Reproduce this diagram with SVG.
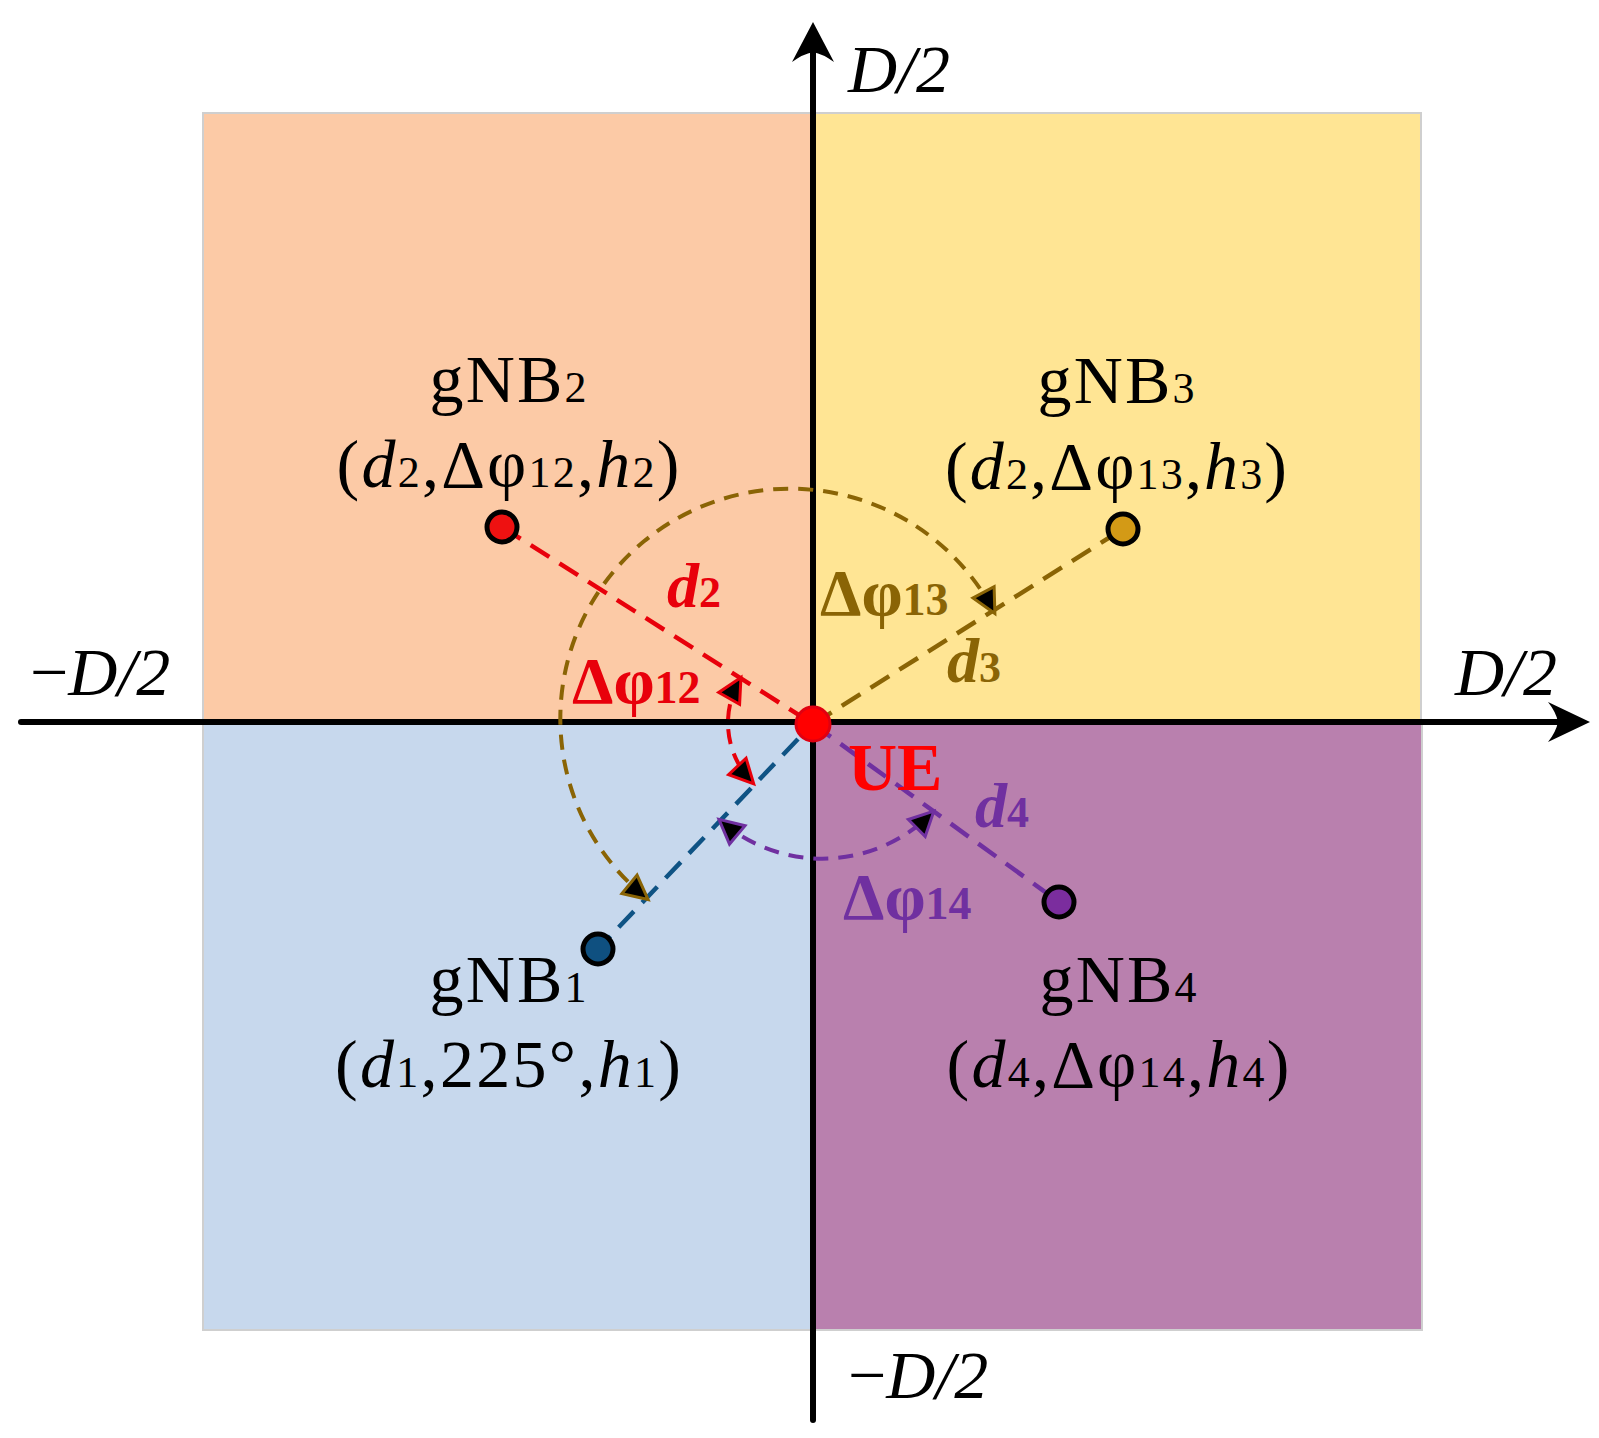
<svg xmlns="http://www.w3.org/2000/svg" width="1599" height="1438" viewBox="0 0 1599 1438">
<style>
text{font-family:"Liberation Serif","Times New Roman",serif;}
.lbl{font-size:68px;fill:#000;text-anchor:middle;}
.sub{font-size:44px;}
.it{font-style:italic;}
.ax{font-size:68px;font-style:italic;fill:#000;}
.cl{font-weight:bold;}
.quad{stroke:#cfcfcf;stroke-width:2;}
.axis{stroke:#000;stroke-width:6;stroke-linecap:round;fill:none;}
.ln{fill:none;stroke-width:4.5;stroke-dasharray:22 12;}
.arc{fill:none;stroke-width:4;stroke-dasharray:15 10;}
.node{stroke:#000;stroke-width:5;}
</style>
<defs>
<marker id="ar-red" viewBox="-30 -20 40 40" refX="0" refY="0" markerWidth="40" markerHeight="40" markerUnits="userSpaceOnUse" orient="auto-start-reverse"><path d="M4,0 L-20,-12 L-20,12 Z" fill="#000" stroke="#E8000B" stroke-width="3"/></marker>
<marker id="ar-gold" viewBox="-30 -20 40 40" refX="0" refY="0" markerWidth="40" markerHeight="40" markerUnits="userSpaceOnUse" orient="auto-start-reverse"><path d="M4,0 L-20,-12 L-20,12 Z" fill="#000" stroke="#8A6405" stroke-width="3"/></marker>
<marker id="ar-pur" viewBox="-30 -20 40 40" refX="0" refY="0" markerWidth="40" markerHeight="40" markerUnits="userSpaceOnUse" orient="auto-start-reverse"><path d="M4,0 L-20,-12 L-20,12 Z" fill="#000" stroke="#7030A0" stroke-width="3"/></marker>
</defs>

<g id="quadrants">
<rect class="quad" x="203" y="113" width="610" height="609" fill="#FCCAA6"/>
<rect class="quad" x="813" y="113" width="608" height="609" fill="#FFE594"/>
<rect class="quad" x="203" y="722" width="610" height="608" fill="#C7D8ED"/>
<rect class="quad" x="813" y="722" width="609" height="608" fill="#B980AE"/>
</g>

<g id="axes">
<line class="axis" x1="21" y1="722" x2="1565" y2="722"/>
<path d="M1590,722 L1548,702 Q1556,712 1558,722 Q1556,732 1548,742 Z" fill="#000"/>
<line class="axis" x1="813" y1="1420" x2="813" y2="45"/>
<path d="M813,22 L792,62 Q803,54 813,52 Q823,54 834,62 Z" fill="#000"/>
<text class="ax" x="848" y="92">D/2</text>
<text class="ax" x="1455" y="695">D/2</text>
<text class="ax" x="30" y="695"><tspan font-style="normal">−</tspan>D/2</text>
<text class="ax" x="848" y="1398"><tspan font-style="normal">−</tspan>D/2</text>
</g>

<g id="connectors">
<line class="ln" x1="502" y1="527" x2="813" y2="724" stroke="#E8000B"/>
<line class="ln" x1="813" y1="724" x2="1123" y2="529" stroke="#8A6405"/>
<line class="ln" x1="798" y1="739" x2="598" y2="949" stroke="#0F5384"/>
<line class="ln" x1="813" y1="724" x2="1059" y2="902" stroke="#7030A0"/>
<path class="arc" d="M993,610 A230,230 0 1 0 645,897" stroke="#8A6405" marker-start="url(#ar-gold)" marker-end="url(#ar-gold)"/>
<path class="arc" d="M739,681 A85,85 0 0 0 751,781" stroke="#E8000B" marker-start="url(#ar-red)" marker-end="url(#ar-red)"/>
<path class="arc" d="M722,822 A155,155 0 0 0 931,814" stroke="#7030A0" stroke-width="4.5" stroke-dasharray="18 11" marker-start="url(#ar-pur)" marker-end="url(#ar-pur)"/>
<text class="cl it" x="667" y="607" font-size="64" fill="#E8000B">d<tspan font-style="normal" font-size="44">2</tspan></text>
<text class="cl" x="572" y="703" font-size="66" fill="#E8000B">Δφ<tspan font-size="46">12</tspan></text>
<text class="cl" x="820" y="615" font-size="66" fill="#8A6405">Δφ<tspan font-size="46">13</tspan></text>
<text class="cl it" x="947" y="682" font-size="64" fill="#8A6405">d<tspan font-style="normal" font-size="44">3</tspan></text>
<text class="cl it" x="975" y="827" font-size="64" fill="#7030A0">d<tspan font-style="normal" font-size="44">4</tspan></text>
<text class="cl" x="843" y="919" font-size="66" fill="#7030A0">Δφ<tspan font-size="46">14</tspan></text>
</g>

<g id="gNB2">
<circle class="node" cx="502" cy="527" r="15" fill="#EE1111"/>
<text class="lbl" x="508" y="402" textLength="157">gNB<tspan class="sub">2</tspan></text>
<text class="lbl" x="508" y="487" textLength="343">(<tspan class="it">d</tspan><tspan class="sub">2</tspan>,Δφ<tspan class="sub">12</tspan>,<tspan class="it">h</tspan><tspan class="sub">2</tspan>)</text>
</g>

<g id="gNB3">
<circle class="node" cx="1123" cy="529" r="15" fill="#D39A16"/>
<text class="lbl" x="1116" y="403" textLength="157">gNB<tspan class="sub">3</tspan></text>
<text class="lbl" x="1116" y="489" textLength="342">(<tspan class="it">d</tspan><tspan class="sub">2</tspan>,Δφ<tspan class="sub">13</tspan>,<tspan class="it">h</tspan><tspan class="sub">3</tspan>)</text>
</g>

<g id="gNB1">
<circle class="node" cx="598" cy="949" r="15" fill="#0F5080"/>
<text class="lbl" x="508" y="1002" textLength="157">gNB<tspan class="sub">1</tspan></text>
<text class="lbl" x="508" y="1087" textLength="346">(<tspan class="it">d</tspan><tspan class="sub">1</tspan>,225°,<tspan class="it">h</tspan><tspan class="sub">1</tspan>)</text>
</g>

<g id="gNB4">
<circle class="node" cx="1059" cy="902" r="15" fill="#7B2D9E"/>
<text class="lbl" x="1118" y="1002" textLength="157">gNB<tspan class="sub">4</tspan></text>
<text class="lbl" x="1118" y="1087" textLength="343">(<tspan class="it">d</tspan><tspan class="sub">4</tspan>,Δφ<tspan class="sub">14</tspan>,<tspan class="it">h</tspan><tspan class="sub">4</tspan>)</text>
</g>

<g id="UE">
<circle cx="813" cy="724" r="17" fill="#FF0000" stroke="#E00010" stroke-width="3"/>
<text class="cl" x="848" y="790" font-size="68" fill="#FF0000">UE</text>
</g>
</svg>
